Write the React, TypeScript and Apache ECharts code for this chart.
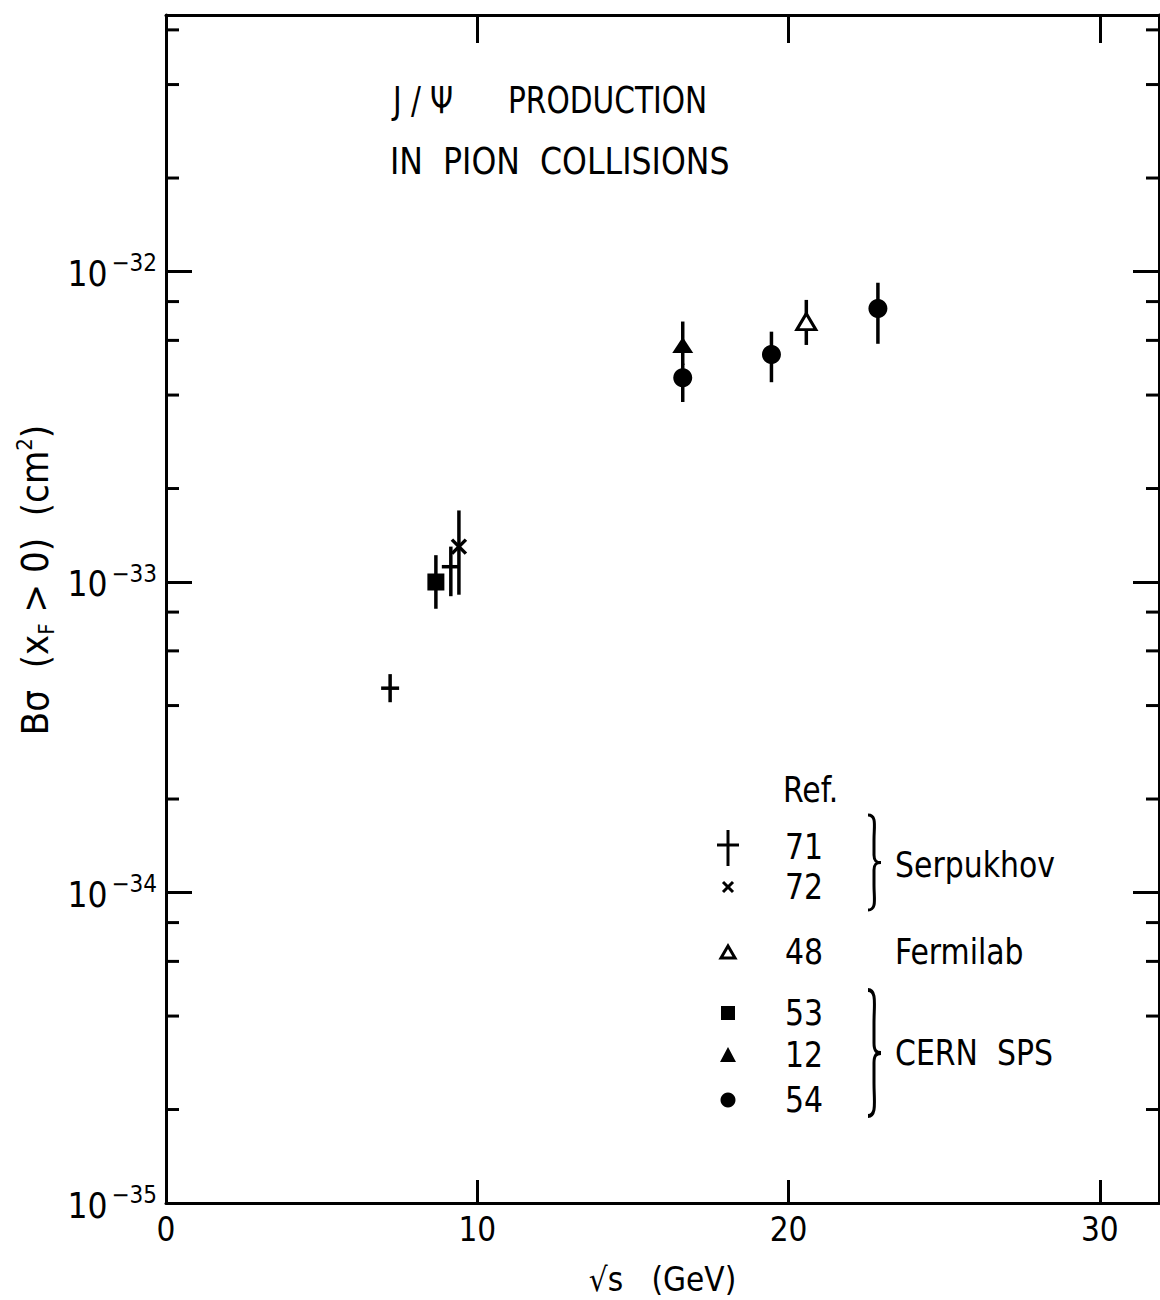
import React, { useEffect, useRef } from "react";
import * as echarts from "echarts";

const FONT = '"DejaVu Sans Condensed", "DejaVu Sans", sans-serif';

// Axis ranges / ticks (cross sections in cm^2)
const X_MIN = 0;
const X_MAX = 31.9;
const X_STEP = 10;
const Y_MIN = 1e-35;
const Y_MAX = 6.7e-32;
const Y_UNIT_EXP = -35; // plotting unit: 1e-35 cm^2
const Y_MINOR_TICKS = [
  2e-35, 4e-35, 6e-35, 8e-35,
  2e-34, 4e-34, 6e-34, 8e-34,
  2e-33, 4e-33, 6e-33, 8e-33,
  2e-32, 4e-32, 6e-32,
];

// Serpukhov, Ref. 71 (+)
const SERP71_X = [7.2, 9.15];
const SERP71_Y = [4.55e-34, 1.12e-33];
const SERP71_LO = [4.1e-34, 0.9e-33];
const SERP71_HI = [5.05e-34, 1.3e-33];

// Serpukhov, Ref. 72 (x)
const SERP72_X = [9.41];
const SERP72_Y = [1.3e-33];
const SERP72_LO = [0.91e-33];
const SERP72_HI = [1.7e-33];

// Fermilab, Ref. 48 (open triangle)
const FNAL48_X = [20.57];
const FNAL48_Y = [6.9e-33];
const FNAL48_LO = [5.8e-33];
const FNAL48_HI = [8.1e-33];

// CERN SPS, Ref. 53 (square)
const CERN53_X = [8.67];
const CERN53_Y = [1.0e-33];
const CERN53_LO = [0.82e-33];
const CERN53_HI = [1.22e-33];

// CERN SPS, Ref. 12 (filled triangle)
const CERN12_X = [16.6];
const CERN12_Y = [5.8e-33];
const CERN12_LO = [5.0e-33];
const CERN12_HI = [6.9e-33];

// CERN SPS, Ref. 54 (circle)
const CERN54_X = [16.6, 19.45, 22.87];
const CERN54_Y = [4.55e-33, 5.4e-33, 7.6e-33];
const CERN54_LO = [3.8e-33, 4.4e-33, 5.85e-33];
const CERN54_HI = [5.05e-33, 6.4e-33, 9.2e-33];

// convert cm^2 to plotting unit (avoids float rounding of tiny numbers in the log scale)
const u = (v: number) => v / Math.pow(10, Y_UNIT_EXP);

const rows = (xs: number[], ys: number[], lo: number[], hi: number[]) =>
  xs.map((x, i) => [x, u(ys[i]), u(lo[i]), u(hi[i])]);
const pts = (xs: number[], ys: number[]) => xs.map((x, i) => [x, u(ys[i])]);

const BLACK = "#000";
const LW = 3.5;

function errorSeries(xs: number[], ys: number[], lo: number[], hi: number[], glyph: string) {
  return {
    type: "custom",
    xAxisIndex: 0,
    yAxisIndex: 0,
    z: 2,
    clip: false,
    encode: { x: 0, y: 1 },
    data: rows(xs, ys, lo, hi),
    renderItem: (params: any, api: any) => {
      const x = api.value(0);
      const p = api.coord([x, api.value(1)]);
      const pl = api.coord([x, api.value(2)]);
      const ph = api.coord([x, api.value(3)]);
      const st = { stroke: BLACK, lineWidth: LW };
      const children: any[] = [
        { type: "line", shape: { x1: p[0], y1: ph[1], x2: p[0], y2: pl[1] }, style: st },
      ];
      if (glyph === "plus") {
        children.push({ type: "line", shape: { x1: p[0] - 9, y1: p[1], x2: p[0] + 9, y2: p[1] }, style: st });
      } else if (glyph === "cross") {
        children.push({ type: "line", shape: { x1: p[0] - 7, y1: p[1] - 7, x2: p[0] + 7, y2: p[1] + 7 }, style: st });
        children.push({ type: "line", shape: { x1: p[0] - 7, y1: p[1] + 7, x2: p[0] + 7, y2: p[1] - 7 }, style: st });
      }
      return { type: "group", children };
    },
  };
}

function minorTickSeries() {
  return {
    type: "custom",
    xAxisIndex: 0,
    yAxisIndex: 0,
    z: 3,
    clip: false,
    silent: true,
    encode: { x: 0, y: 1 },
    data: Y_MINOR_TICKS.map((v) => [X_MIN, u(v)]),
    renderItem: (params: any, api: any) => {
      const y = api.coord([X_MIN, api.value(1)])[1];
      const cs = params.coordSys;
      const st = { stroke: BLACK, lineWidth: 3 };
      return {
        type: "group",
        children: [
          { type: "line", shape: { x1: cs.x, y1: y, x2: cs.x + 13, y2: y }, style: st },
          { type: "line", shape: { x1: cs.x + cs.width - 13, y1: y, x2: cs.x + cs.width, y2: y }, style: st },
        ],
      };
    },
  };
}

const braceD =
  "M0,0 C9,0 6,12 6,26 L6,42 C6,48 8,50 13,50 C8,50 6,52 6,58 L6,74 C6,88 9,100 0,100";

let braceRegistered = false;

function App() {
  const ref = useRef<HTMLDivElement>(null);
  useEffect(() => {
    if (!ref.current) return;
    if (!braceRegistered) {
      echarts.graphic.registerShape("brace", echarts.graphic.extendPath(braceD, {}) as any);
      braceRegistered = true;
    }
    const chart = echarts.init(ref.current, null, { renderer: "svg" });

    const yLabelFormatter = (v: number) => {
      const e = Math.log10(v);
      if (Math.abs(e - Math.round(e)) > 1e-6) return "";
      const exp = Math.round(e) + Y_UNIT_EXP;
      return `{b|10}{s|\u2212${-exp}}`;
    };

    const yAxisBase = {
      type: "log",
      logBase: 10,
      min: u(Y_MIN),
      max: u(Y_MAX),
      splitLine: { show: false },
      axisLine: { show: true, onZero: false, lineStyle: { color: BLACK, width: 3 } },
      axisTick: { show: true, inside: true, length: 26, lineStyle: { color: BLACK, width: 3 } },
    };

    const legendText = (left: number, y: number, text: string) => ({
      type: "text",
      x: left,
      y,
      scaleX: 0.95,
      style: { text, font: `35px ${FONT}`, fill: BLACK, verticalAlign: "middle", align: "left" },
    });

    const mk = 728;
    const graphic: any[] = [
      {
        type: "text",
        x: 393,
        y: 100,
        scaleX: 0.88,
        style: { text: "J / \u03A8", font: `37px ${FONT}`, fill: BLACK, verticalAlign: "middle" },
      },
      {
        type: "text",
        x: 508,
        y: 100,
        scaleX: 0.89,
        style: { text: "PRODUCTION", font: `37px ${FONT}`, fill: BLACK, verticalAlign: "middle" },
      },
      {
        type: "text",
        x: 390,
        y: 162,
        scaleX: 0.95,
        style: { text: "IN  PION  COLLISIONS", font: `37px ${FONT}`, fill: BLACK, verticalAlign: "middle" },
      },
      {
        type: "text",
        x: 35,
        y: 580,
        rotation: Math.PI / 2,
        style: {
          text: "{t|B\u03C3  (x}{sub|F}{t| > 0)  (cm}{sup|2}{t|)}",
          align: "center",
          verticalAlign: "middle",
          fill: BLACK,
          rich: {
            t: { fontSize: 38, fontFamily: FONT, lineHeight: 44, verticalAlign: "middle", fill: BLACK },
            sub: { fontSize: 22, fontFamily: FONT, lineHeight: 22, verticalAlign: "bottom", fill: BLACK },
            sup: { fontSize: 22, fontFamily: FONT, lineHeight: 22, verticalAlign: "top", fill: BLACK },
          },
        },
      },
      legendText(783, 790, "Ref."),
      legendText(785, 847, "71"),
      legendText(785, 887, "72"),
      legendText(785, 952, "48"),
      legendText(785, 1013, "53"),
      legendText(785, 1055, "12"),
      legendText(785, 1100, "54"),
      legendText(895, 865, "Serpukhov"),
      legendText(895, 952, "Fermilab"),
      legendText(895, 1053, "CERN  SPS"),
      // legend markers
      { type: "line", shape: { x1: mk, y1: 830, x2: mk, y2: 866 }, style: { stroke: BLACK, lineWidth: 3 } },
      { type: "line", shape: { x1: mk - 11, y1: 845, x2: mk + 11, y2: 845 }, style: { stroke: BLACK, lineWidth: 3 } },
      { type: "line", shape: { x1: mk - 5, y1: 882, x2: mk + 5, y2: 892 }, style: { stroke: BLACK, lineWidth: 3 } },
      { type: "line", shape: { x1: mk - 5, y1: 892, x2: mk + 5, y2: 882 }, style: { stroke: BLACK, lineWidth: 3 } },
      {
        type: "polygon",
        shape: { points: [[mk, 946], [mk - 7, 958], [mk + 7, 958]] },
        style: { fill: "#fff", stroke: BLACK, lineWidth: 3 },
      },
      { type: "rect", shape: { x: mk - 7, y: 1006, width: 14, height: 14 }, style: { fill: BLACK } },
      {
        type: "polygon",
        shape: { points: [[mk, 1047], [mk - 8, 1062], [mk + 8, 1062]] },
        style: { fill: BLACK },
      },
      { type: "circle", shape: { cx: mk, cy: 1100, r: 7.5 }, style: { fill: BLACK } },
      // braces
      {
        type: "brace",
        x: 868,
        y: 815,
        scaleX: 1,
        scaleY: 0.95,
        style: { fill: "none", stroke: BLACK, lineWidth: 3 },
      },
      {
        type: "brace",
        x: 868,
        y: 990,
        scaleX: 1,
        scaleY: 1.26,
        style: { fill: "none", stroke: BLACK, lineWidth: 3 },
      },
    ];

    chart.setOption({
      animation: false,
      backgroundColor: "#fff",
      grid: {
        left: 166,
        top: 15,
        width: 993,
        height: 1188,
        containLabel: false,
        outerBoundsMode: "none",
      },
      xAxis: [
        {
          type: "value",
          position: "bottom",
          min: X_MIN,
          max: X_MAX,
          interval: X_STEP,
          splitLine: { show: false },
          axisLine: { onZero: false, lineStyle: { color: BLACK, width: 3 } },
          axisTick: { inside: true, length: 23, lineStyle: { color: BLACK, width: 3 } },
          axisLabel: {
            margin: 10,
            fontSize: 33,
            fontFamily: FONT,
            color: BLACK,
            formatter: (v: number) => (Math.abs(v % X_STEP) < 1e-9 ? String(v) : ""),
          },
          name: "\u221As   (GeV)",
          nameLocation: "middle",
          nameGap: 60,
          nameTextStyle: { fontSize: 33, fontFamily: FONT, color: BLACK },
        },
        {
          type: "value",
          position: "top",
          min: X_MIN,
          max: X_MAX,
          interval: X_STEP,
          splitLine: { show: false },
          axisLine: { onZero: false, lineStyle: { color: BLACK, width: 3 } },
          axisTick: { inside: true, length: 28, lineStyle: { color: BLACK, width: 3 } },
          axisLabel: { show: false },
        },
      ],
      yAxis: [
        {
          ...yAxisBase,
          position: "left",
          axisLabel: {
            margin: 9,
            formatter: yLabelFormatter,
            showMaxLabel: false,
            rich: {
              b: { fontSize: 35, fontFamily: FONT, color: BLACK, lineHeight: 40, verticalAlign: "bottom" },
              s: { fontSize: 24, fontFamily: FONT, color: BLACK, lineHeight: 32, verticalAlign: "top", padding: [0, 0, 0, 4] },
            },
          },
        },
        {
          ...yAxisBase,
          position: "right",
          axisLabel: { show: false },
        },
      ],
      series: [
        minorTickSeries(),
        errorSeries(SERP71_X, SERP71_Y, SERP71_LO, SERP71_HI, "plus"),
        errorSeries(SERP72_X, SERP72_Y, SERP72_LO, SERP72_HI, "cross"),
        errorSeries(FNAL48_X, FNAL48_Y, FNAL48_LO, FNAL48_HI, "none"),
        errorSeries(CERN53_X, CERN53_Y, CERN53_LO, CERN53_HI, "none"),
        errorSeries(CERN12_X, CERN12_Y, CERN12_LO, CERN12_HI, "none"),
        errorSeries(CERN54_X, CERN54_Y, CERN54_LO, CERN54_HI, "none"),
        {
          name: "Ref. 48 Fermilab",
          type: "scatter",
          z: 4,
          symbol: "triangle",
          symbolSize: [19, 16],
          itemStyle: { color: "#fff", borderColor: BLACK, borderWidth: 3, opacity: 1 },
          data: pts(FNAL48_X, FNAL48_Y),
        },
        {
          name: "Ref. 53 CERN SPS",
          type: "scatter",
          z: 4,
          symbol: "rect",
          symbolSize: 17,
          itemStyle: { color: BLACK, opacity: 1 },
          data: pts(CERN53_X, CERN53_Y),
        },
        {
          name: "Ref. 12 CERN SPS",
          type: "scatter",
          z: 4,
          symbol: "triangle",
          symbolSize: [21, 16],
          itemStyle: { color: BLACK, opacity: 1 },
          data: pts(CERN12_X, CERN12_Y),
        },
        {
          name: "Ref. 54 CERN SPS",
          type: "scatter",
          z: 4,
          symbol: "circle",
          symbolSize: 19,
          itemStyle: { color: BLACK, opacity: 1 },
          data: pts(CERN54_X, CERN54_Y),
        },
      ],
      graphic,
    });
    return () => chart.dispose();
  }, []);
  return (
    <div
      ref={ref}
      style={{ position: "absolute", left: 0, top: 0, width: 1160, height: 1300, background: "#fff" }}
    />
  );
}

export default App;
